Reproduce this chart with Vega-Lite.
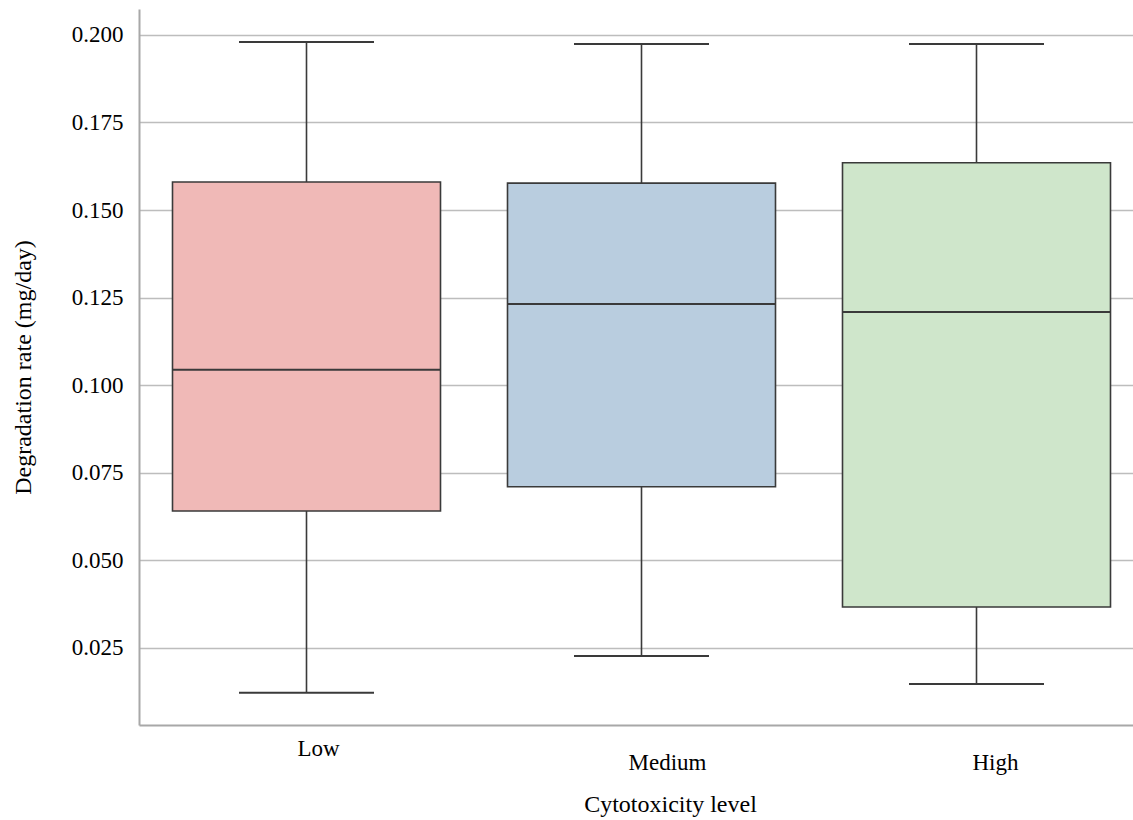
{
  "$schema": "https://vega.github.io/schema/vega-lite/v6.json",
  "autosize": "none",
  "padding": {"left": 139, "top": 9, "right": 0, "bottom": 95},
  "width": 1005,
  "height": 716,
  "background": "white",
  "config": {
    "view": {"stroke": null},
    "font": "Liberation Serif",
    "axis": {"labelFont": "Liberation Serif", "titleFont": "Liberation Serif", "labelFontSize": 23, "titleFontSize": 24, "titleFontWeight": "normal", "labelColor": "#000", "titleColor": "#000"}
  },
  "data": {"values": [
    {"level": "Low", "lower": 0.0122, "q1": 0.0641, "median": 0.1044, "q3": 0.1580, "upper": 0.1980},
    {"level": "Medium", "lower": 0.0227, "q1": 0.0710, "median": 0.1232, "q3": 0.1577, "upper": 0.1974},
    {"level": "High", "lower": 0.0147, "q1": 0.0367, "median": 0.1209, "q3": 0.1635, "upper": 0.1974}
  ]},
  "encoding": {
    "x": {
      "field": "level", "type": "nominal", "sort": ["Low", "Medium", "High"],
      "scale": {"paddingInner": 0.2, "paddingOuter": 0.1},
      "axis": {
        "title": "Cytotoxicity level", "labelAngle": 0, "ticks": false,
        "domainColor": "#A8A8A8", "domainWidth": 2,
        "labelPadding": {"expr": "datum.value === 'Low' ? 12 : 26"},
        "labelOffset": {"expr": "datum.value === 'Low' ? 12 : datum.value === 'Medium' ? 26 : 19"},
        "titlePadding": 18, "titleX": 531
      }
    }
  },
  "layer": [
    {
      "mark": {"type": "rule", "color": "#3a3a3a", "strokeWidth": 1.6},
      "encoding": {
        "y": {"field": "lower", "type": "quantitative",
          "scale": {"domain": [0.003, 0.2074], "nice": false, "zero": false},
          "axis": {"title": "Degradation rate (mg/day)", "values": [0.025, 0.05, 0.075, 0.1, 0.125, 0.15, 0.175, 0.2], "format": ".3f",
            "ticks": false, "labelPadding": 16, "grid": true, "gridColor": "#BDBDBD", "gridWidth": 1.6,
            "domainColor": "#A8A8A8", "domainWidth": 2, "titlePadding": 36}},
        "y2": {"field": "upper"}
      }
    },
    {
      "mark": {"type": "bar", "stroke": "#3a3a3a", "strokeWidth": 1.6},
      "encoding": {
        "y": {"field": "q1", "type": "quantitative"},
        "y2": {"field": "q3"},
        "color": {"field": "level", "type": "nominal", "legend": null,
          "scale": {"domain": ["Low", "Medium", "High"], "range": ["#F0B9B7", "#B9CDDF", "#CFE6CB"]}}
      }
    },
    {
      "mark": {"type": "tick", "color": "#3a3a3a", "thickness": 2, "size": 268, "opacity": 1},
      "encoding": {"y": {"field": "median", "type": "quantitative"}}
    },
    {
      "mark": {"type": "tick", "color": "#3a3a3a", "thickness": 2, "size": 135, "opacity": 1},
      "encoding": {"y": {"field": "lower", "type": "quantitative"}}
    },
    {
      "mark": {"type": "tick", "color": "#3a3a3a", "thickness": 2, "size": 135, "opacity": 1},
      "encoding": {"y": {"field": "upper", "type": "quantitative"}}
    }
  ]
}
